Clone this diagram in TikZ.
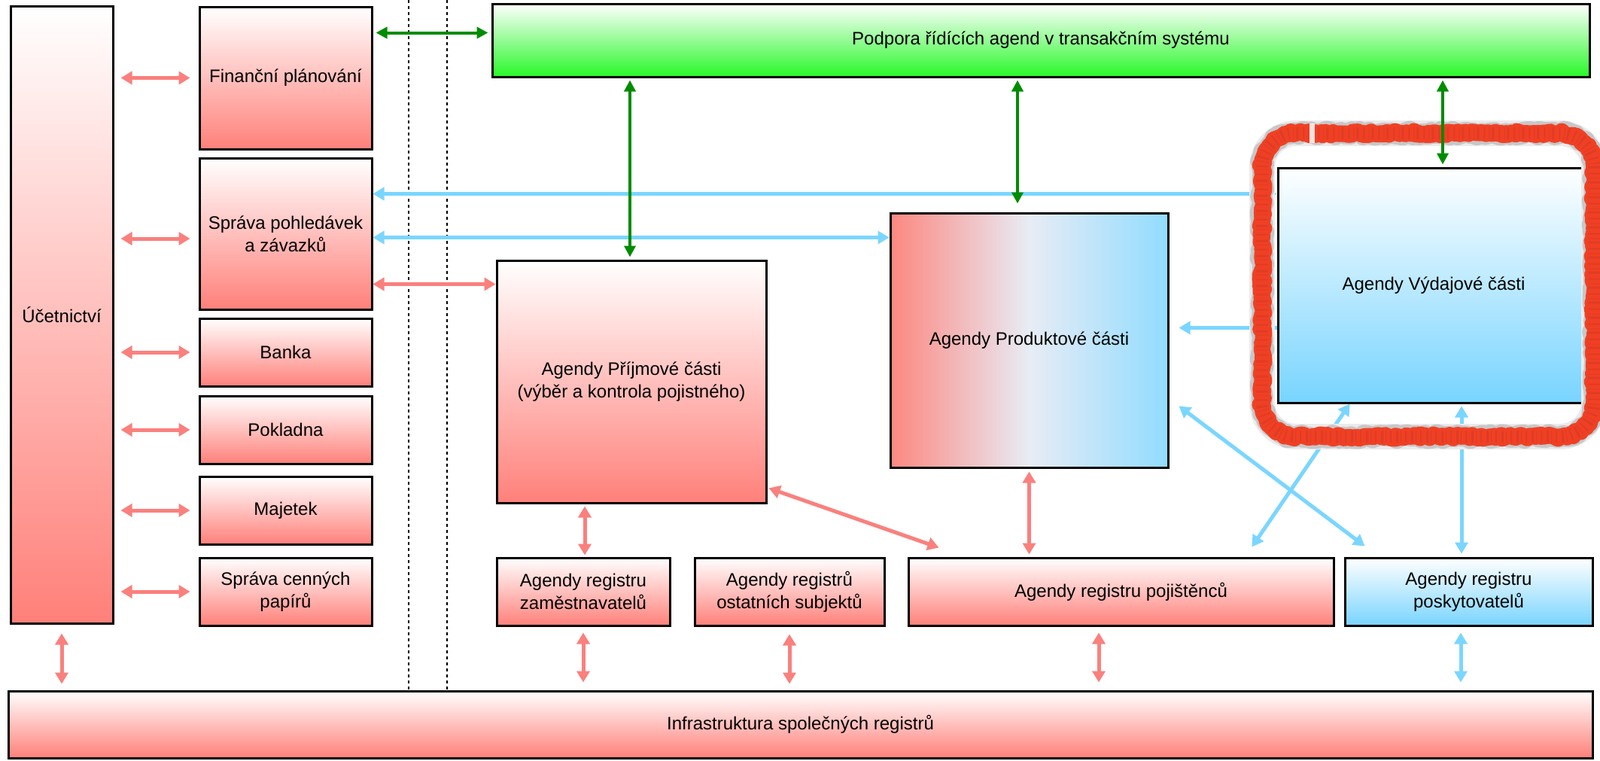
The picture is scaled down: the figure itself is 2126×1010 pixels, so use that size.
\documentclass[tikz,border=0pt]{standalone}
\usepackage{fontspec}
\setmainfont{Liberation Sans}
\usetikzlibrary{arrows.meta,calc,decorations.pathmorphing}
\definecolor{salm}{RGB}{255,128,122}
\definecolor{arrred}{RGB}{250,128,125}
\definecolor{sky}{RGB}{120,212,255}
\definecolor{arrblue}{RGB}{122,214,255}
\definecolor{gbot}{RGB}{40,248,40}
\definecolor{arrgreen}{RGB}{0,140,0}
\definecolor{prodL}{RGB}{252,135,128}
\definecolor{prodM}{RGB}{232,236,245}
\definecolor{prodR}{RGB}{145,220,255}
\definecolor{blobred}{RGB}{240,64,36}
\definecolor{blobdark}{RGB}{185,52,40}
\begin{document}
\begin{tikzpicture}[x=1pt,y=-1pt,
  box/.style={draw=black, line width=3pt, inner sep=0pt, align=center,
    font=\fontsize{24}{30}\selectfont},
  redbox/.style={box, top color=white, bottom color=salm},
  bluebox/.style={box, top color=white, bottom color=sky},
  greenbox/.style={box, top color=white, bottom color=gbot},
  prodbox/.style={box, left color=prodL, right color=prodR, middle color=prodM},
  tipr/.tip={Triangle[length=15pt,width=17pt]},
  ra/.style={draw=arrred, line width=5pt, tipr-tipr},
  ba/.style={draw=arrblue, line width=5pt, tipr-tipr},
  bas/.style={draw=arrblue, line width=5pt, -tipr},
  ga/.style={draw=arrgreen, line width=4pt, {Triangle[length=15pt,width=15pt]}-{Triangle[length=15pt,width=15pt]}},
  dotl/.style={draw=black, line width=2pt, dash pattern=on 4pt off 4pt},
  rough/.style={decorate, decoration={random steps, segment length=#1, amplitude=2.5pt}}
]
\useasboundingbox (0,0) rectangle (2126,1010);
\fill[white] (0,0) rectangle (2126,1010);

% dotted separators
\draw[dotl] (543,0) -- (543,918);
\draw[dotl] (594,0) -- (594,918);

% left column
\node[redbox, minimum width=136pt, minimum height=820pt] (ucet) at (82,418) {Účetnictví};
\node[redbox, minimum width=229pt, minimum height=189pt] (fin) at (379.5,103.5) {Finanční plánování};
\node[redbox, minimum width=229pt, minimum height=201pt] (sprava) at (379.5,310.5) {Správa pohledávek\\a závazků};
\node[redbox, minimum width=229pt, minimum height=90pt] (banka) at (379.5,468) {Banka};
\node[redbox, minimum width=229pt, minimum height=90pt] (pokladna) at (379.5,571) {Pokladna};
\node[redbox, minimum width=229pt, minimum height=90pt] (majetek) at (379.5,678) {Majetek};
\node[redbox, minimum width=229pt, minimum height=90pt] (cenne) at (379.5,786) {Správa cenných\\papírů};

% main area
\node[greenbox, minimum width=1458pt, minimum height=97pt] (podpora) at (1383,53.5) {Podpora řídících agend v transakčním systému};
\node[redbox, minimum width=358pt, minimum height=322pt] (prijmove) at (839,507) {Agendy Příjmové části\\(výběr a kontrola pojistného)};
\node[prodbox, minimum width=369pt, minimum height=338pt] (produktove) at (1367.5,452) {Agendy Produktové části};
\node[bluebox, minimum width=414pt, minimum height=312pt] (vydajove) at (1905,379) {Agendy Výdajové části};

% registers
\node[redbox, minimum width=230pt, minimum height=90pt] (zam) at (775,786) {Agendy registru\\zaměstnavatelů};
\node[redbox, minimum width=252pt, minimum height=90pt] (ost) at (1049,786) {Agendy registrů\\ostatních subjektů};
\node[redbox, minimum width=565pt, minimum height=90pt] (poj) at (1489.5,786) {Agendy registru pojištěnců};
\node[bluebox, minimum width=329pt, minimum height=90pt] (posk) at (1951.5,786) {Agendy registru\\poskytovatelů};
\node[redbox, minimum width=2105pt, minimum height=89pt] (infra) at (1063.5,962.5) {Infrastruktura společných registrů};

% blue connectors
\draw[ba] ($(sprava.north east)+(0,49)$) -- ($(vydajove.north west)+(0,36)$);
\draw[ba] ($(sprava.north east)+(0,107)$) -- ($(produktove.north west)+(0,34)$);
\draw[bas] ($(vydajove.north west)+(0,214)$) -- ($(produktove.north east)+(13,154)$);
\draw[ba] ($(produktove.south east)+(13,-83)$) -- ($(posk.north west)+(28,-14)$);
\draw[ba] ($(vydajove.south west)+(97,0)$) -- ($(poj.north east)+(-110,-13)$);
\draw[ba] ($(vydajove.south)+(37,3)$) -- ($(posk.north)+(-9.5,-4)$);
\draw[ba] ($(posk.south)+(-10.5,8)$) -- ($(posk.south |- infra.north)+(-10.5,-10)$);

% red connectors
\foreach \n in {fin,banka,pokladna,majetek,cenne}
  \draw[ra, shorten <=9pt, shorten >=11pt] (ucet.east |- \n.west) -- (\n.west);
\draw[ra, shorten <=9pt, shorten >=11pt] ($(ucet.east |- sprava.west)+(0,6.5)$) -- ($(sprava.west)+(0,6.5)$);
\draw[ra] ($(ucet.south)+(0,12)$) -- ($(ucet.south |- infra.north)+(0,-8)$);
\draw[ra] ($(sprava.north east)+(0,169)$) -- ($(prijmove.north west)+(0,33)$);
\draw[ra] ($(zam.north |- prijmove.south)+(2,3)$) -- ($(zam.north)+(2,-2)$);
\draw[ra] ($(prijmove.south east)+(2,-21)$) -- ($(poj.north west)+(42,-12)$);
\draw[ra] ($(produktove.south)+(0,4)$) -- ($(produktove.south |- poj.north)+(0,-3)$);
\draw[ra] ($(zam.south)+(0,8)$) -- ($(zam.south |- infra.north)+(0,-10)$);
\draw[ra] ($(ost.south)+(0,10)$) -- ($(ost.south |- infra.north)+(0,-8)$);
\draw[ra] ($(poj.south)+(-29.5,8)$) -- ($(poj.south |- infra.north)+(-29.5,-10)$);

% rough highlight round Výdajové
\def\blobpath{(1677,222) arc[start angle=180,end angle=270,radius=45] -- (2073,177)
  arc[start angle=270,end angle=360,radius=45] -- (2118,535)
  arc[start angle=0,end angle=90,radius=45] -- (1722,580)
  arc[start angle=90,end angle=180,radius=45] -- cycle}
\draw[line width=34pt, black!8, line join=round] \blobpath;
\draw[line width=28pt, black!22, line join=round, rough=5pt] \blobpath;
\draw[line width=22pt, blobred, line join=round, rough=4pt] \blobpath;
\draw[line width=18pt, blobred, line join=round, rough=3pt] \blobpath;
\draw[line width=16pt, blobdark, opacity=0.3, dash pattern=on 2pt off 5pt on 1pt off 3pt on 3pt off 6pt] \blobpath;
\fill[white, opacity=0.85] (1740,164) rectangle (1747,190);

% green connectors
\draw[ga] ($(fin.north east)+(4,36)$) -- ($(podpora.north west)+(-4,40)$);
\draw[ga] ($(prijmove.north |- podpora.south)+(-2,3)$) -- ($(prijmove.north)+(-2,-3)$);
\draw[ga] ($(produktove.north |- podpora.south)+(-15.5,3)$) -- ($(produktove.north)+(-15.5,-11)$);
\draw[ga] ($(vydajove.north |- podpora.south)+(12,3)$) -- ($(vydajove.north)+(12,-3)$);
\end{tikzpicture}
\end{document}
